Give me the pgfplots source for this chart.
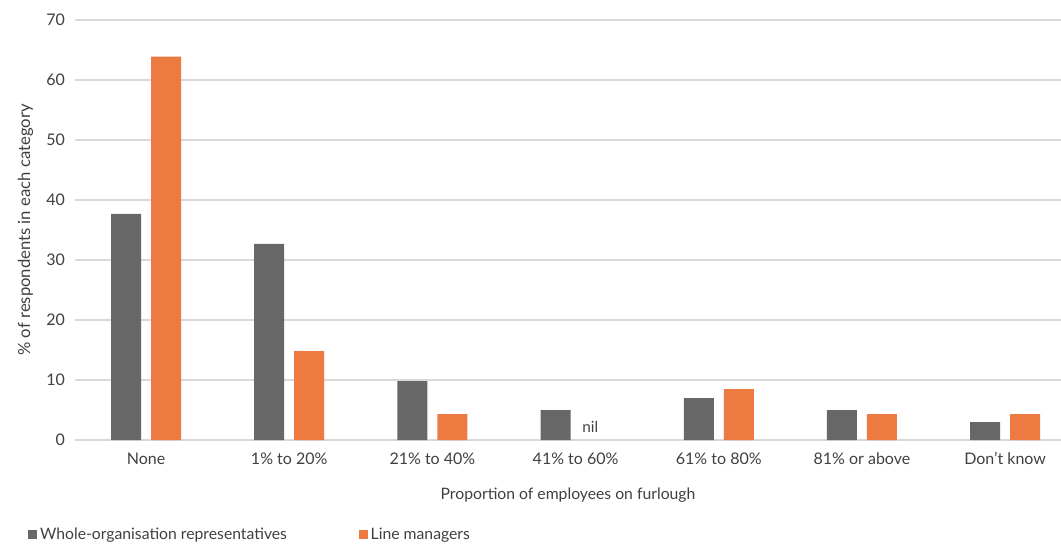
\documentclass[border=0pt]{standalone}
\usepackage{pgfplots}
\pgfplotsset{compat=1.18}
\usepackage{fontspec}
\setmainfont{Lato}
\definecolor{wgray}{HTML}{676767}
\definecolor{lorange}{HTML}{ED7A40}
\definecolor{txt}{HTML}{404040}
\definecolor{gridc}{HTML}{D9D9D9}
\begin{document}
\begin{tikzpicture}[x=1pt,y=1pt]
\begin{axis}[
  at={(0,0)}, anchor=south west,
  scale only axis,
  width=739.5pt, height=315pt,
  ymin=0, ymax=70, ytick={0,10,...,70},
  xmin=-0.496, xmax=6.39,
  xtick={0,...,6},
  xticklabels={None,1\% to 20\%,21\% to 40\%,41\% to 60\%,61\% to 80\%,81\% or above,Don't know},
  axis line style={draw=none},
  major tick length=0pt,
  ymajorgrids, xmajorgrids=false,
  grid style={draw=gridc, line width=1.1pt},
  tick label style={font=\fontsize{12}{14}\selectfont, text=txt},
  /pgf/number format/assume math mode=true,
  yticklabel style={xshift=-4pt},
  xticklabel style={yshift=-6pt},
  xlabel={Proportion of employees on furlough},
  ylabel={\% of respondents in each category},
  xlabel style={font=\fontsize{11.8}{14}\selectfont, text=txt, yshift=-10pt},
  ylabel style={font=\fontsize{12.5}{14}\selectfont, text=txt, yshift=3pt},
  ybar, bar width=22.5pt,
  legend style={at={(-0.0475,-0.226)}, anchor=west, draw=none, fill=none,
    legend columns=2, font=\fontsize{11.8}{14}\selectfont, text=txt, inner sep=0pt,
    /tikz/every even column/.append style={column sep=52pt}},
  legend image code/.code={\fill[#1] (0pt,-3.4pt) rectangle (6.8pt,3.4pt);},
  legend image post style={xshift=-2pt},
]
\addplot[fill=wgray, draw=none, bar shift=-15pt] coordinates {(0,37.7) (1,32.7) (2,9.8) (3,5) (4,7) (5,5) (6,3)};
\addlegendentry{Whole-organisation representatives}
\addplot[fill=lorange, draw=none, bar shift=15pt] coordinates {(0,63.9) (1,14.8) (2,4.3) (4,8.5) (5,4.3) (6,4.3)};
\addlegendentry{Line managers}
\node[font=\fontsize{11.5}{14}\selectfont, text=txt] at (axis cs:3,2.2) [xshift=11pt] {nil};
\end{axis}
\pgfresetboundingbox
\path (-56.25pt,-78pt) rectangle (739.5pt,330pt);
\end{tikzpicture}
\end{document}
